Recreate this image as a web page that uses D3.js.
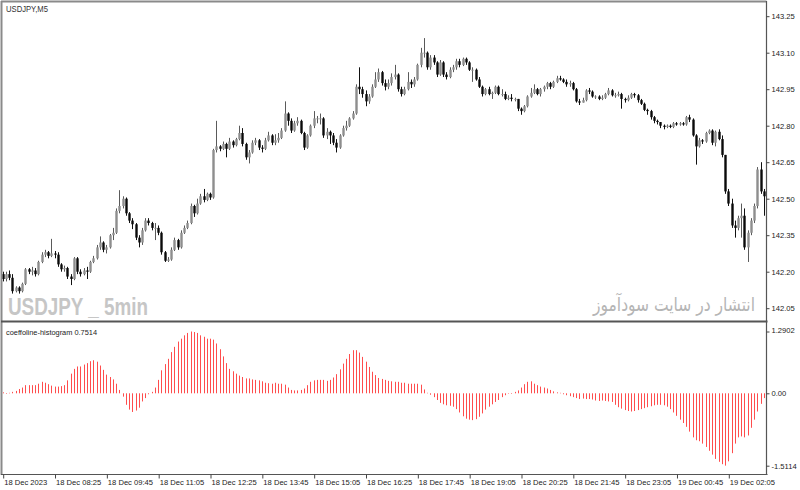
<!DOCTYPE html>
<html><head><meta charset="utf-8">
<script src="https://cdn.jsdelivr.net/npm/d3@7"></script>
<style>body{margin:0;background:#fff}svg{display:block}</style>
</head><body>
<script>
// ---- DATA ----
const priceTicks = [143.25,143.10,142.95,142.80,142.65,142.50,142.35,142.20,142.05];
const histTicks = [1.2902,0,-1.5114];
const histTickLabels = ["1.2902","0.00","-1.5114"];
const timeTickIdx = [0,16,32,48,64,80,96,112,128,144,160,176,192,208,224];
const timeLabels = ["18 Dec 2023","18 Dec 08:25","18 Dec 09:45","18 Dec 11:05","18 Dec 12:25","18 Dec 13:45","18 Dec 15:05","18 Dec 16:25","18 Dec 17:45","18 Dec 19:05","18 Dec 20:25","18 Dec 21:45","18 Dec 23:05","19 Dec 00:45","19 Dec 02:05"];

const close = [
142.170,142.190,142.175,142.120,142.135,142.120,142.150,142.210,142.200,142.205,
142.190,142.240,142.270,142.280,142.265,142.275,142.270,142.230,142.210,142.215,
142.180,142.170,142.255,142.200,142.190,142.205,142.200,142.240,142.255,142.300,
142.320,142.290,142.300,142.350,142.360,142.450,142.470,142.500,142.440,142.410,
142.395,142.340,142.320,142.370,142.410,142.400,142.380,142.380,142.360,142.280,
142.245,142.250,142.290,142.330,142.300,142.360,142.380,142.400,142.470,142.440,
142.480,142.510,142.495,142.520,142.505,142.700,142.715,142.705,142.725,142.705,
142.735,142.720,142.745,142.770,142.725,142.670,142.690,142.730,142.740,142.710,
142.705,142.740,142.760,142.730,142.740,142.750,142.780,142.850,142.820,142.780,
142.810,142.820,142.770,142.710,142.760,142.800,142.830,142.830,142.830,142.760,
142.775,142.760,142.730,142.710,142.760,142.790,142.800,142.830,142.850,142.960,
142.950,142.930,142.900,142.920,142.960,142.990,143.020,142.975,142.960,142.975,
143.000,143.010,142.950,142.930,142.950,142.980,142.970,142.990,143.050,143.100,
143.100,143.040,143.080,143.060,143.010,143.060,143.010,143.000,143.030,143.040,
143.065,143.050,143.075,143.060,143.030,143.030,142.990,142.960,142.930,142.950,
142.930,142.935,142.960,142.930,142.930,142.910,142.915,142.910,142.910,142.870,
142.860,142.880,142.920,142.935,142.950,142.930,142.950,142.960,142.975,142.960,
142.980,142.995,142.990,142.980,142.970,142.975,142.950,142.900,142.895,142.905,
142.945,142.940,142.920,142.920,142.910,142.915,142.930,142.945,142.925,142.925,
142.930,142.910,142.905,142.915,142.930,142.925,142.905,142.890,142.865,142.860,
142.835,142.820,142.815,142.800,142.795,142.800,142.795,142.810,142.805,142.810,
142.805,142.835,142.825,142.760,142.715,142.740,142.735,142.770,142.780,142.730,
142.775,142.745,142.680,142.530,142.480,142.390,142.380,142.420,142.430,142.300,
142.360,142.410,142.470,142.620,142.530,142.510];

const open = [
142.190,142.170,142.190,142.175,142.120,142.135,142.120,142.150,142.210,142.200,
142.205,142.190,142.240,142.270,142.280,142.265,142.275,142.270,142.230,142.210,
142.215,142.180,142.170,142.255,142.200,142.190,142.205,142.200,142.240,142.255,
142.300,142.320,142.290,142.300,142.350,142.360,142.450,142.470,142.500,142.440,
142.410,142.395,142.340,142.320,142.370,142.410,142.400,142.380,142.380,142.360,
142.280,142.245,142.250,142.290,142.330,142.300,142.360,142.380,142.400,142.470,
142.440,142.480,142.510,142.495,142.520,142.505,142.700,142.715,142.705,142.725,
142.705,142.735,142.720,142.745,142.770,142.725,142.670,142.690,142.730,142.740,
142.710,142.705,142.740,142.760,142.730,142.740,142.750,142.780,142.850,142.820,
142.780,142.810,142.820,142.770,142.710,142.760,142.800,142.830,142.830,142.830,
142.760,142.775,142.760,142.730,142.710,142.760,142.790,142.800,142.830,142.850,
142.960,142.950,142.930,142.900,142.920,142.960,142.990,143.020,142.975,142.960,
142.975,143.000,143.010,142.950,142.930,142.950,142.980,142.970,142.990,143.050,
143.100,143.100,143.040,143.080,143.060,143.010,143.060,143.010,143.000,143.030,
143.040,143.065,143.050,143.075,143.060,143.030,143.030,142.990,142.960,142.930,
142.950,142.930,142.935,142.960,142.930,142.930,142.910,142.915,142.910,142.910,
142.870,142.860,142.880,142.920,142.935,142.950,142.930,142.950,142.960,142.975,
142.960,142.980,142.995,142.990,142.980,142.970,142.975,142.950,142.900,142.895,
142.905,142.945,142.940,142.920,142.920,142.910,142.915,142.930,142.945,142.925,
142.925,142.930,142.910,142.905,142.915,142.930,142.925,142.905,142.890,142.865,
142.860,142.835,142.820,142.815,142.800,142.795,142.800,142.795,142.810,142.805,
142.810,142.805,142.835,142.825,142.760,142.715,142.740,142.735,142.770,142.780,
142.730,142.775,142.745,142.680,142.530,142.480,142.390,142.380,142.420,142.430,
142.300,142.360,142.410,142.470,142.620,142.530];

const high = [
142.200,142.200,142.205,142.190,142.140,142.140,142.155,142.215,142.215,142.220,
142.215,142.245,142.280,142.290,142.285,142.335,142.285,142.280,142.235,142.225,
142.220,142.190,142.260,142.260,142.210,142.215,142.220,142.245,142.265,142.310,
142.345,142.325,142.310,142.355,142.380,142.460,142.535,142.510,142.505,142.445,
142.420,142.400,142.350,142.380,142.420,142.420,142.405,142.400,142.390,142.365,
142.285,142.260,142.300,142.340,142.335,142.370,142.390,142.410,142.480,142.475,
142.500,142.520,142.540,142.525,142.525,142.705,142.820,142.720,142.735,142.730,
142.750,142.740,142.750,142.800,142.790,142.730,142.700,142.740,142.750,142.745,
142.720,142.750,142.775,142.765,142.765,142.770,142.790,142.900,142.855,142.830,
142.820,142.835,142.825,142.775,142.765,142.805,142.860,142.840,142.850,142.835,
142.790,142.780,142.770,142.745,142.765,142.800,142.820,142.835,142.860,142.970,
143.040,142.960,142.945,142.930,142.970,143.020,143.035,143.025,142.990,142.990,
143.015,143.050,143.015,142.960,142.960,143.020,142.990,143.000,143.055,143.120,
143.160,143.105,143.090,143.090,143.065,143.070,143.065,143.020,143.040,143.050,
143.075,143.075,143.080,143.080,143.065,143.040,143.035,143.000,142.965,142.955,
142.960,142.940,142.965,142.965,142.950,142.940,142.925,142.930,142.915,142.910,
142.875,142.885,142.925,142.955,142.970,142.955,142.955,142.965,142.980,142.980,
142.985,143.005,143.005,142.995,142.990,142.985,142.980,142.955,142.910,142.915,
142.950,142.955,142.945,142.925,142.925,142.925,142.935,142.955,142.950,142.935,
142.940,142.935,142.915,142.925,142.935,142.935,142.930,142.910,142.895,142.870,
142.865,142.840,142.825,142.815,142.805,142.805,142.805,142.815,142.815,142.815,
142.815,142.840,142.845,142.830,142.765,142.750,142.745,142.775,142.785,142.785,
142.780,142.785,142.760,142.680,142.540,142.500,142.410,142.430,142.480,142.460,
142.370,142.420,142.480,142.630,142.650,142.540];

const low = [
142.160,142.160,142.165,142.110,142.115,142.110,142.115,142.145,142.190,142.185,
142.180,142.185,142.235,142.260,142.255,142.260,142.255,142.220,142.200,142.200,
142.170,142.145,142.165,142.190,142.180,142.185,142.170,142.195,142.235,142.250,
142.290,142.280,142.275,142.295,142.330,142.355,142.440,142.460,142.430,142.400,
142.375,142.330,142.300,142.310,142.365,142.390,142.370,142.330,142.350,142.270,
142.240,142.240,142.245,142.285,142.290,142.295,142.355,142.375,142.395,142.425,
142.435,142.475,142.485,142.490,142.495,142.500,142.690,142.695,142.700,142.670,
142.700,142.710,142.715,142.740,142.715,142.660,142.645,142.685,142.720,142.700,
142.690,142.700,142.735,142.720,142.720,142.730,142.745,142.775,142.800,142.770,
142.775,142.800,142.765,142.700,142.705,142.755,142.790,142.810,142.805,142.750,
142.745,142.725,142.720,142.690,142.705,142.755,142.780,142.795,142.825,142.845,
142.930,142.915,142.880,142.890,142.915,142.955,142.980,142.965,142.945,142.950,
142.965,142.990,142.940,142.920,142.925,142.945,142.955,142.960,142.985,143.040,
143.080,143.030,143.030,143.050,143.000,143.005,143.000,142.990,142.995,143.020,
143.030,143.040,143.045,143.050,143.025,142.980,142.985,142.955,142.920,142.925,
142.925,142.910,142.930,142.925,142.920,142.905,142.905,142.900,142.900,142.860,
142.845,142.855,142.875,142.915,142.930,142.925,142.920,142.940,142.950,142.950,
142.955,142.975,142.985,142.975,142.960,142.960,142.945,142.895,142.885,142.895,
142.900,142.930,142.915,142.910,142.905,142.905,142.910,142.925,142.920,142.915,
142.920,142.870,142.895,142.900,142.910,142.915,142.895,142.885,142.860,142.845,
142.825,142.810,142.805,142.790,142.785,142.790,142.790,142.790,142.800,142.800,
142.800,142.800,142.815,142.755,142.640,142.710,142.725,142.730,142.765,142.720,
142.715,142.740,142.670,142.520,142.470,142.380,142.340,142.370,142.340,142.290,
142.240,142.350,142.400,142.460,142.520,142.430];

const hist = [
0.02,0.00,0.01,0.03,0.05,0.09,0.12,0.17,0.17,0.17,
0.17,0.20,0.24,0.22,0.19,0.16,0.14,0.14,0.15,0.17,
0.27,0.41,0.51,0.56,0.56,0.60,0.63,0.67,0.69,0.66,
0.58,0.49,0.39,0.34,0.29,0.20,0.07,-0.07,-0.24,-0.34,
-0.39,-0.36,-0.30,-0.17,-0.10,-0.02,0.03,0.12,0.28,0.48,
0.61,0.72,0.86,0.97,1.08,1.14,1.21,1.26,1.29,1.28,
1.26,1.21,1.18,1.14,1.14,1.12,1.04,0.92,0.77,0.63,
0.51,0.46,0.41,0.37,0.34,0.31,0.31,0.29,0.28,0.27,
0.25,0.22,0.21,0.20,0.22,0.20,0.20,0.18,0.12,0.07,
0.06,0.06,0.07,0.10,0.17,0.24,0.27,0.28,0.28,0.28,
0.26,0.28,0.33,0.40,0.50,0.62,0.72,0.82,0.90,0.90,
0.85,0.76,0.66,0.55,0.45,0.38,0.32,0.30,0.28,0.26,
0.25,0.24,0.24,0.22,0.22,0.20,0.20,0.20,0.20,0.18,
0.08,0.01,-0.03,-0.08,-0.14,-0.20,-0.23,-0.25,-0.26,-0.28,
-0.33,-0.40,-0.48,-0.53,-0.55,-0.56,-0.54,-0.49,-0.42,-0.34,
-0.28,-0.23,-0.18,-0.14,-0.08,-0.04,-0.01,0.00,0.03,0.06,
0.12,0.19,0.24,0.25,0.20,0.17,0.14,0.12,0.10,0.07,
0.04,0.02,0.01,-0.02,-0.04,-0.06,-0.08,-0.10,-0.12,-0.11,
-0.12,-0.12,-0.13,-0.15,-0.16,-0.15,-0.16,-0.17,-0.18,-0.24,
-0.29,-0.32,-0.35,-0.37,-0.38,-0.37,-0.35,-0.33,-0.31,-0.29,
-0.27,-0.25,-0.24,-0.24,-0.25,-0.28,-0.33,-0.40,-0.47,-0.55,
-0.62,-0.70,-0.80,-0.92,-0.98,-1.00,-1.05,-1.12,-1.20,-1.28,
-1.37,-1.43,-1.48,-1.51,-1.42,-1.25,-1.05,-0.92,-0.90,-0.92,
-0.88,-0.72,-0.55,-0.38,-0.22,-0.10];

// ---- DRAW ----
const W = 800, H = 490;
const svg = d3.select("body").append("svg").attr("width", W).attr("height", H);
const FONT = "'Liberation Sans', Arial, sans-serif";
const axisX = 766.5;

const x = d3.scaleLinear().domain([0, 224]).range([2.7, 728.3]);
const yP = d3.scaleLinear().domain([142.05, 143.25]).range([308.2, 16.2]);
const yH = d3.scaleLinear().domain([-1.5114, 1.2902]).range([465.7, 331.5]);

// watermarks
svg.append("text").attr("x", 8).attr("y", 315).attr("font-family", FONT).attr("font-weight", "bold")
  .attr("font-size", 24).attr("fill", "#c6c6c6").attr("textLength", 140).attr("lengthAdjust", "spacingAndGlyphs")
  .text("USDJPY _ 5min");
svg.append("text").attr("x", 674).attr("y", 311).attr("text-anchor", "middle").attr("font-family", "'DejaVu Sans', sans-serif")
  .attr("font-size", 19).attr("fill", "#b5b5b5").attr("textLength", 162).attr("lengthAdjust", "spacingAndGlyphs")
  .text("انتشار در سایت سودآموز");

// candles
const data = close.map((c, i) => ({i, o: open[i], h: Math.max(high[i], open[i], c), l: Math.min(low[i], open[i], c), c}));
const g = svg.append("g");
g.selectAll("line.wick").data(data).join("line").attr("class", "wick")
  .attr("x1", d => Math.round(x(d.i)) + 0.5).attr("x2", d => Math.round(x(d.i)) + 0.5)
  .attr("y1", d => yP(d.h)).attr("y2", d => yP(d.l))
  .attr("stroke", d => d.c >= d.o ? "#5a5a5a" : "#111").attr("stroke-width", 1);
g.selectAll("rect.body").data(data).join("rect").attr("class", "body")
  .attr("x", d => Math.round(x(d.i)) + 0.5 - 1.2).attr("width", 2.4)
  .attr("y", d => yP(Math.max(d.o, d.c)))
  .attr("height", d => Math.max(0.9, Math.abs(yP(d.o) - yP(d.c))))
  .attr("fill", d => d.c >= d.o ? "#8e8e8e" : "#0a0a0a");

// histogram
svg.append("g").selectAll("line").data(hist).join("line")
  .attr("x1", (v, i) => Math.round(x(i)) + 0.5).attr("x2", (v, i) => Math.round(x(i)) + 0.5)
  .attr("y1", yH(0)).attr("y2", v => yH(v) + (v === 0 ? 0.6 : 0))
  .attr("stroke", "#ff4d4d").attr("stroke-width", 1);

// frame
const frame = svg.append("g").attr("fill", "none");
frame.append("line").attr("x1", 1.5).attr("x2", 1.5).attr("y1", 1).attr("y2", 475).attr("stroke", "#8a8a8a").attr("stroke-width", 2);
frame.append("line").attr("x1", 1).attr("x2", axisX).attr("y1", 1.5).attr("y2", 1.5).attr("stroke", "#8a8a8a").attr("stroke-width", 2);
frame.append("line").attr("x1", axisX).attr("x2", axisX).attr("y1", 1).attr("y2", 475).attr("stroke", "#555").attr("stroke-width", 1.2);
frame.append("line").attr("x1", 1).attr("x2", axisX + 1).attr("y1", 321.5).attr("y2", 321.5).attr("stroke", "#555").attr("stroke-width", 2);
frame.append("line").attr("x1", 1).attr("x2", axisX + 1).attr("y1", 474.5).attr("y2", 474.5).attr("stroke", "#555").attr("stroke-width", 1.2);

// price axis
const pa = svg.append("g").attr("transform", `translate(${axisX},0)`)
  .call(d3.axisRight(yP).tickValues(priceTicks).tickSize(3).tickPadding(2).tickFormat(d3.format(".2f")));
pa.select(".domain").remove();
// hist axis
const ha = svg.append("g").attr("transform", `translate(${axisX},0)`)
  .call(d3.axisRight(yH).tickValues(histTicks).tickSize(3).tickPadding(2).tickFormat((d, i) => histTickLabels[i]));
ha.select(".domain").remove();
ha.selectAll(".tick text").filter((d, i) => i === 0).attr("dy", "0.1em");
// time axis
const ta = svg.append("g").attr("transform", `translate(0,474.5)`)
  .call(d3.axisBottom(x).tickValues(timeTickIdx).tickSize(4).tickPadding(1).tickFormat((d, i) => timeLabels[i]));
ta.select(".domain").remove();
ta.selectAll(".tick line").attr("transform", "translate(0.5,0)");
ta.selectAll(".tick text").attr("text-anchor", "start").attr("dx", 1);

svg.selectAll(".tick text").attr("font-family", FONT).attr("font-size", 7.6).attr("fill", "#222");
svg.selectAll(".tick line").attr("stroke", "#444");

// titles
svg.append("text").attr("x", 6).attr("y", 12).attr("font-family", FONT).attr("font-size", 8.2).attr("fill", "#333")
  .attr("textLength", 42).attr("lengthAdjust", "spacingAndGlyphs").text("USDJPY,M5");
svg.append("text").attr("x", 6).attr("y", 334.5).attr("font-family", FONT).attr("font-size", 7.6).attr("fill", "#222")
  .attr("textLength", 91).attr("lengthAdjust", "spacingAndGlyphs").text("coeffoline-histogram 0.7514");
</script>
</body></html>
